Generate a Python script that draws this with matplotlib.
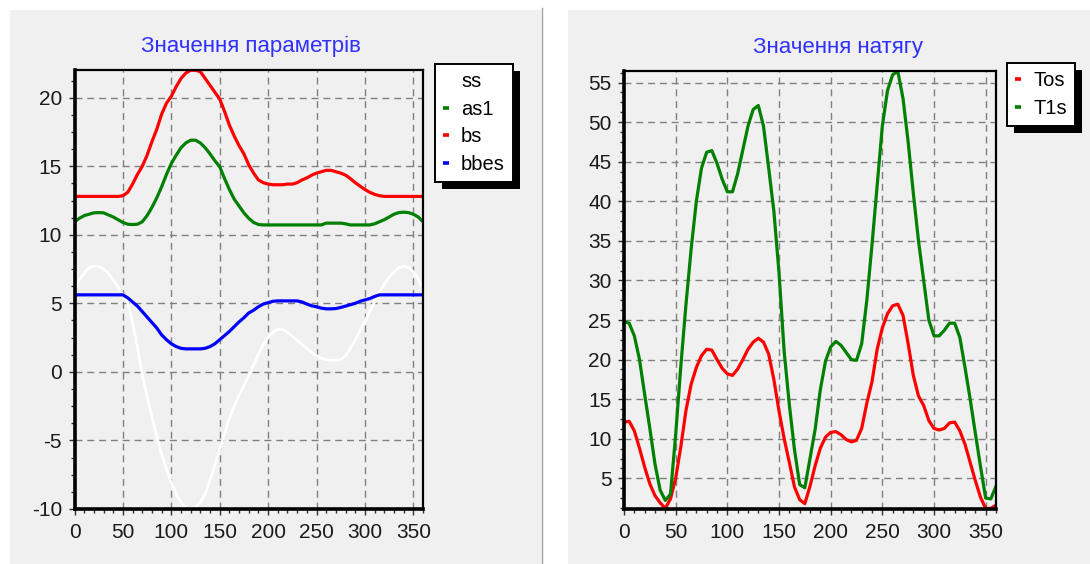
import numpy as np
import matplotlib
matplotlib.use("Agg")
import matplotlib.pyplot as plt
from matplotlib.patches import Rectangle
from matplotlib.lines import Line2D
from matplotlib.ticker import MultipleLocator, AutoMinorLocator

plt.rcParams['font.family'] = ['Liberation Sans', 'DejaVu Sans']
plt.rcParams['axes.unicode_minus'] = False

# ---------------- data ----------------
angle = list(range(0, 361, 5))

# left chart: "Значення параметрів"
ss = [6.0, 6.7, 7.2, 7.6, 7.7, 7.7, 7.5, 7.2, 6.7, 6.2, 5.6, 5.0, 3.6, 1.8, -0.2, -1.8,
      -3.3, -4.7, -6.0, -7.1, -8.1, -8.9, -9.5, -9.9, -10.0, -9.9, -9.5, -8.9, -7.9, -6.8,
      -5.6, -4.5, -3.4, -2.5, -1.7, -1.0, -0.3, 0.5, 1.3, 2.0, 2.5, 2.9, 3.1, 3.1, 2.9, 2.6,
      2.3, 2.0, 1.7, 1.4, 1.2, 1.0, 0.9, 0.85, 0.85, 0.9, 1.2, 1.7, 2.3, 3.0, 3.7, 4.4,
      5.1, 5.8, 6.4, 6.9, 7.3, 7.6, 7.7, 7.6, 7.3, 6.8, 6.0]
as1 = [10.96, 11.2, 11.4, 11.5, 11.6, 11.62, 11.6, 11.45, 11.3, 11.1, 10.9, 10.77, 10.75,
       10.77, 10.95, 11.4, 12.0, 12.7, 13.5, 14.4, 15.2, 15.8, 16.35, 16.7, 16.9, 16.9,
       16.7, 16.35, 15.9, 15.4, 14.97, 14.1, 13.3, 12.6, 12.1, 11.6, 11.2, 10.9, 10.75,
       10.72, 10.72, 10.72, 10.72, 10.72, 10.72, 10.72, 10.72, 10.72, 10.72, 10.72, 10.72,
       10.72, 10.85, 10.85, 10.85, 10.85, 10.8, 10.72, 10.72, 10.72, 10.72, 10.72, 10.8,
       10.95, 11.1, 11.3, 11.5, 11.62, 11.65, 11.62, 11.5, 11.3, 10.96]
bs = [12.8, 12.8, 12.8, 12.8, 12.8, 12.8, 12.8, 12.8, 12.8, 12.8, 12.85, 13.1, 13.7, 14.4,
      15.0, 15.8, 16.8, 17.7, 18.8, 19.6, 20.1, 20.8, 21.4, 21.8, 22.0, 22.0, 21.9, 21.4,
      20.9, 20.4, 19.9, 19.0, 18.0, 17.2, 16.5, 15.9, 15.1, 14.5, 14.0, 13.8, 13.7, 13.65,
      13.65, 13.65, 13.7, 13.7, 13.8, 14.0, 14.15, 14.35, 14.5, 14.6, 14.7, 14.7, 14.6,
      14.5, 14.35, 14.1, 13.8, 13.55, 13.3, 13.1, 12.95, 12.85, 12.8, 12.8, 12.8, 12.8,
      12.8, 12.8, 12.8, 12.8, 12.8]
bbes = [5.62, 5.62, 5.62, 5.62, 5.62, 5.62, 5.62, 5.62, 5.62, 5.62, 5.62, 5.4, 5.1, 4.8,
        4.4, 4.0, 3.6, 3.2, 2.7, 2.35, 2.05, 1.85, 1.72, 1.68, 1.68, 1.68, 1.68, 1.72,
        1.85, 2.05, 2.35, 2.65, 2.95, 3.3, 3.65, 3.95, 4.3, 4.5, 4.75, 4.95, 5.05, 5.15,
        5.18, 5.18, 5.18, 5.18, 5.18, 5.1, 4.95, 4.82, 4.75, 4.65, 4.6, 4.6, 4.62, 4.7,
        4.8, 4.9, 5.0, 5.15, 5.25, 5.35, 5.5, 5.62, 5.62, 5.62, 5.62, 5.62, 5.62, 5.62,
        5.62, 5.62, 5.62]

# right chart: "Значення натягу"
Tos = [12.1, 12.2, 11.0, 8.8, 6.4, 4.3, 2.8, 1.9, 1.2, 2.4, 5.0, 9.0, 13.6, 16.9, 19.0,
       20.5, 21.3, 21.2, 20.0, 18.9, 18.2, 18.0, 18.8, 20.0, 21.3, 22.2, 22.7, 22.2, 20.7,
       17.5, 13.5, 10.0, 7.0, 3.9, 2.3, 1.8, 4.0, 6.6, 8.8, 10.2, 10.8, 10.9, 10.5, 9.9,
       9.6, 9.8, 11.3, 14.5, 17.2, 21.3, 24.0, 25.8, 26.8, 27.0, 25.6, 22.0, 18.0, 15.4,
       14.2, 12.3, 11.3, 11.1, 11.3, 12.0, 12.1, 11.0, 9.3, 7.0, 4.7, 2.6, 1.2, 1.2, 1.6]
T1s = [24.8, 24.6, 23.0, 20.0, 15.6, 11.3, 6.8, 3.5, 2.2, 3.0, 10.5, 19.2, 27.0, 34.0,
       40.0, 44.2, 46.2, 46.4, 44.8, 42.8, 41.2, 41.2, 43.5, 46.5, 49.5, 51.6, 52.1, 49.5,
       44.2, 38.8, 31.0, 21.0, 14.3, 8.6, 4.2, 3.8, 7.5, 11.2, 16.2, 19.8, 21.6, 22.3,
       21.8, 20.9, 20.0, 19.9, 22.0, 27.5, 34.5, 42.0, 49.5, 54.0, 56.0, 56.4, 53.0, 47.5,
       41.0, 35.0, 30.0, 25.0, 23.0, 23.0, 23.7, 24.6, 24.6, 22.8, 19.0, 15.0, 10.7, 6.5,
       2.5, 2.4, 4.0]

left_title = "Значення параметрів"
right_title = "Значення натягу"
left_labels = ["ss", "as1", "bs", "bbes"]
right_labels = ["Tos", "T1s"]
left_yticks = [-10, -5, 0, 5, 10, 15, 20]
right_yticks = [5, 10, 15, 20, 25, 30, 35, 40, 45, 50, 55]
xticks = [0, 50, 100, 150, 200, 250, 300, 350]

# ---------------- figure ----------------
W, H = 1090, 564
fig = plt.figure(figsize=(W / 100, H / 100), dpi=100, facecolor='white')

def fx(px):
    return px / W

def fy(py):
    return 1 - py / H

PANEL = '#f0f0f0'
# panel backgrounds
fig.add_artist(Rectangle((fx(10), 0), fx(531), fy(10), transform=fig.transFigure,
                         facecolor=PANEL, edgecolor='none', zorder=-2))
fig.add_artist(Line2D([fx(541.5), fx(541.5)], [0, fy(8)], transform=fig.transFigure,
                      color='#a0a0a0', lw=1.0, zorder=-1))
fig.add_artist(Rectangle((fx(568), 0), fx(522), fy(10), transform=fig.transFigure,
                         facecolor=PANEL, edgecolor='none', zorder=-2))

axL = fig.add_axes([fx(74.5), fy(509), fx(423 - 74.5), (509 - 70) / H])
axR = fig.add_axes([fx(624), fy(509), fx(996 - 624), (509 - 70.7) / H])

LW = 2.3
axL.plot(angle, ss, color='white', lw=2.0, label=left_labels[0])
axL.plot(angle, as1, color='#008000', lw=LW, label=left_labels[1])
axL.plot(angle, bs, color='#ff0000', lw=LW, label=left_labels[2])
axL.plot(angle, bbes, color='#0000ff', lw=LW, label=left_labels[3])

axR.plot(angle, Tos, color='#ff0000', lw=LW, label=right_labels[0])
axR.plot(angle, T1s, color='#008000', lw=LW, label=right_labels[1])

axL.set_xlim(0, 360)
axL.set_ylim(-10, 22.02)
axR.set_xlim(0, 360)
axR.set_ylim(1.12, 56.5)

axL.set_yticks(left_yticks)
axR.set_yticks(right_yticks)

TICKCOL = '#1a1a1a'
for ax in (axL, axR):
    ax.set_facecolor(PANEL)
    ax.set_xticks(xticks)
    ax.xaxis.set_minor_locator(MultipleLocator(10))
    ax.yaxis.set_minor_locator(AutoMinorLocator(4))
    ax.grid(True, which='major', color='#808080', linestyle=(0, (5, 3.5)), linewidth=1.0)
    ax.set_axisbelow(True)
    ax.tick_params(which='both', direction='out', color='#303030', labelcolor=TICKCOL,
                   labelsize=15)
    ax.tick_params(which='major', length=4, width=1.0)
    ax.tick_params(which='minor', length=3, width=1.0)
    ax.tick_params(axis='x', which='major', pad=6)
    ax.tick_params(axis='y', which='major', pad=5)
    ax.spines['left'].set_linewidth(2.6)
    ax.spines['bottom'].set_linewidth(2.6)
    ax.spines['top'].set_linewidth(1.6)
    ax.spines['right'].set_linewidth(1.6)
    for s in ax.spines.values():
        s.set_color('black')
        s.set_zorder(3)

TITLECOL = '#3030ff'
axL.set_title(left_title, color=TITLECOL, fontsize=16, x=0.505, pad=13)
axR.set_title(right_title, color=TITLECOL, fontsize=16, x=0.575, pad=13)

def make_legend(ax, anchor_px):
    h, l = ax.get_legend_handles_labels()
    leg = fig.legend(h, l, loc='upper left',
                     bbox_to_anchor=(fx(anchor_px[0]), fy(anchor_px[1])),
                     bbox_transform=fig.transFigure, borderaxespad=0,
                     fontsize=14.5, handlelength=0.3, handletextpad=0.6,
                     labelspacing=0.42, borderpad=0.4, fancybox=False,
                     framealpha=1, facecolor='white', edgecolor='black')
    leg.get_frame().set_linewidth(1.4)
    leg.set_zorder(6)
    for line in leg.get_lines():
        line.set_linewidth(2.6)
        line.set_solid_capstyle('butt')
    return leg

legL = make_legend(axL, (435, 64.3))
legR = make_legend(axR, (1007, 63.3))

fig.canvas.draw()
for leg in (legL, legR):
    bb = leg.get_window_extent()
    off = 7
    fig.add_artist(Rectangle(((bb.x0 + off) / W, (bb.y0 - off) / H), bb.width / W,
                             bb.height / H, transform=fig.transFigure,
                             facecolor='black', edgecolor='none', zorder=5))

fig.savefig('out.png', dpi=100, facecolor='white')
